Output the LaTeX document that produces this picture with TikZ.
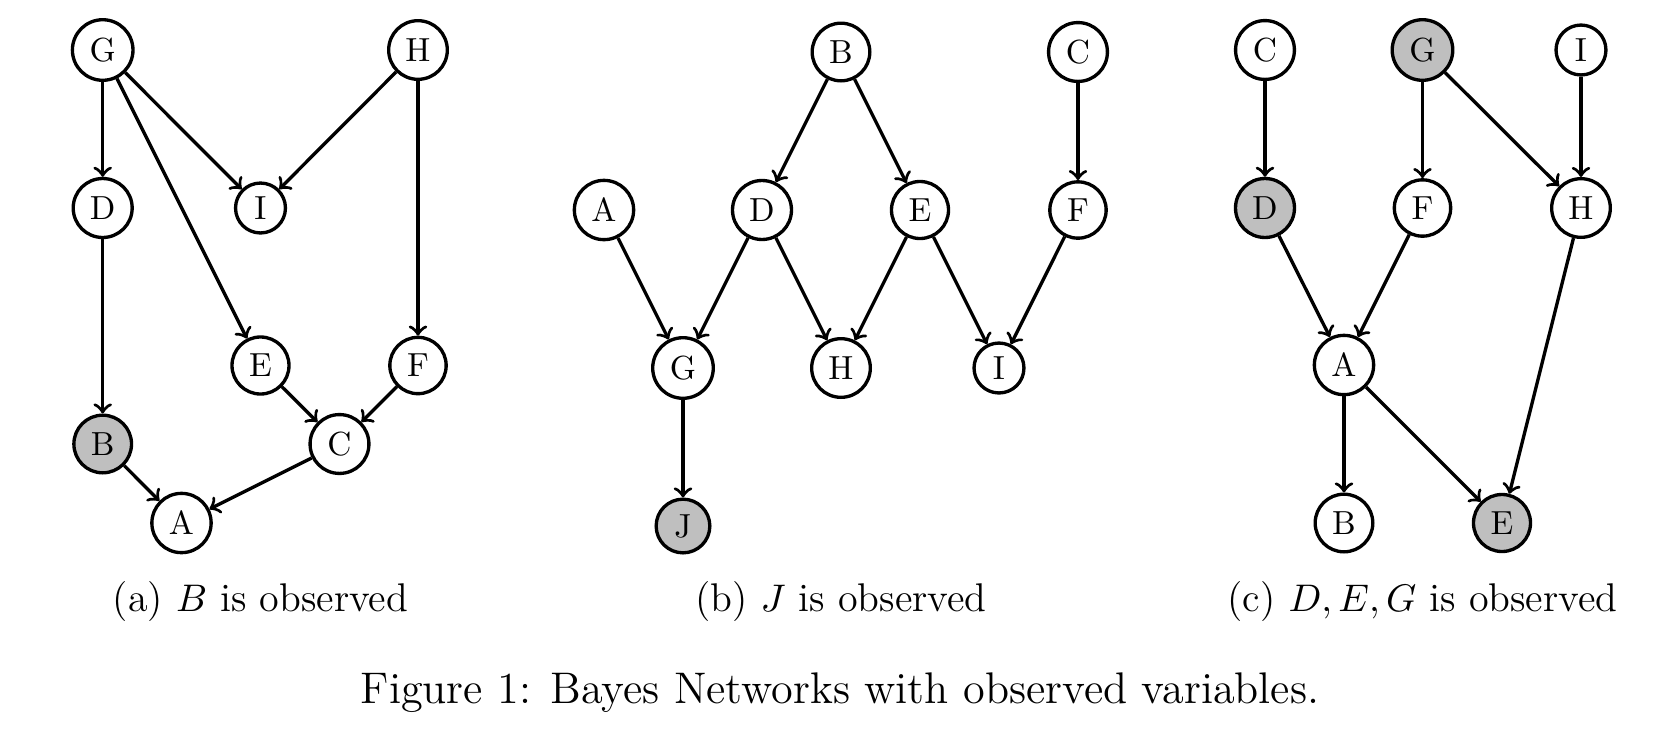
\documentclass[tikz,border=0pt]{standalone}
\usepackage{tikz}
\tikzset{
	varnode/.style={circle, draw, line width=0.95pt, inner sep=2.5pt, font=\fontsize{9.5}{11}\selectfont},
	obsnode/.style={varnode, fill=gray!50},
	bnarrow/.style={->, line width=0.95pt},
	subcap/.style={anchor=base, font=\fontsize{11.4}{13.6}\selectfont},
	figcap/.style={anchor=base, font=\fontsize{12.6}{15}\selectfont}
}

\begin{document}
\begin{tikzpicture}
			%%%%% START %%%%%
			\useasboundingbox (0, 0) rectangle (16.73, 7.29);
			
			% (a)
			\node[varnode] (aG) at (1.027, 6.79) {G};
			\node[varnode] (aH) at (4.18, 6.79) {H};
			\node[varnode] (aD) at (1.027, 5.21) {D};
			\node[varnode] (aI) at (2.605, 5.21) {I};
			\node[varnode] (aE) at (2.605, 3.635) {E};
			\node[varnode] (aF) at (4.18, 3.635) {F};
			\node[obsnode] (aB) at (1.027, 2.85) {B};
			\node[varnode] (aC) at (3.395, 2.85) {C};
			\node[varnode] (aA) at (1.815, 2.06) {A};
			
			\draw[bnarrow] (aG) -- (aD);
			\draw[bnarrow] (aG) -- (aI);
			\draw[bnarrow] (aG) -- (aE);
			\draw[bnarrow] (aH) -- (aI);
			\draw[bnarrow] (aH) -- (aF);
			\draw[bnarrow] (aD) -- (aB);
			\draw[bnarrow] (aE) -- (aC);
			\draw[bnarrow] (aF) -- (aC);
			\draw[bnarrow] (aB) -- (aA);
			\draw[bnarrow] (aC) -- (aA);
			
			\node[subcap] (acap) at (2.605, 1.175) {(a) $B$ is observed};
			
			% (b)
			\node[varnode] (bB) at (8.41, 6.77) {B};
			\node[varnode] (bC) at (10.78, 6.77) {C};
			\node[varnode] (bA) at (6.04, 5.19) {A};
			\node[varnode] (bD) at (7.62, 5.19) {D};
			\node[varnode] (bE) at (9.20, 5.19) {E};
			\node[varnode] (bF) at (10.78, 5.19) {F};
			\node[varnode] (bG) at (6.83, 3.61) {G};
			\node[varnode] (bH) at (8.41, 3.61) {H};
			\node[varnode] (bI) at (9.99, 3.61) {I};
			\node[obsnode] (bJ) at (6.83, 2.03) {J};
			
			\draw[bnarrow] (bB) -- (bD);
			\draw[bnarrow] (bB) -- (bE);
			\draw[bnarrow] (bC) -- (bF);
			\draw[bnarrow] (bA) -- (bG);
			\draw[bnarrow] (bD) -- (bG);
			\draw[bnarrow] (bD) -- (bH);
			\draw[bnarrow] (bE) -- (bH);
			\draw[bnarrow] (bE) -- (bI);
			\draw[bnarrow] (bF) -- (bI);
			\draw[bnarrow] (bG) -- (bJ);
			
			\node[subcap] (bcap) at (8.41, 1.175) {(b) $J$ is observed};
			
			% (c)
			\node[varnode] (cC) at (12.65, 6.79) {C};
			\node[obsnode] (cG) at (14.225, 6.79) {G};
			\node[varnode] (cI) at (15.81, 6.79) {I};
			\node[obsnode] (cD) at (12.65, 5.21) {D};
			\node[varnode] (cF) at (14.225, 5.21) {F};
			\node[varnode] (cH) at (15.81, 5.21) {H};
			\node[varnode] (cA) at (13.44, 3.64) {A};
			\node[varnode] (cB) at (13.44, 2.06) {B};
			\node[obsnode] (cE) at (15.02, 2.06) {E};
			
			\draw[bnarrow] (cC) -- (cD);
			\draw[bnarrow] (cG) -- (cF);
			\draw[bnarrow] (cG) -- (cH);
			\draw[bnarrow] (cI) -- (cH);
			\draw[bnarrow] (cD) -- (cA);
			\draw[bnarrow] (cF) -- (cA);
			\draw[bnarrow] (cH) -- (cE);
			\draw[bnarrow] (cA) -- (cB);
			\draw[bnarrow] (cA) -- (cE);
			
			\node[subcap] (ccap) at (14.225, 1.175) {(c) $D, E, G$ is observed};
			
			\node[figcap] (figcap) at (8.40, 0.26) {Figure 1: Bayes Networks with observed variables.};
			
			%%%%% END %%%%%
		\end{tikzpicture}
\end{document}
